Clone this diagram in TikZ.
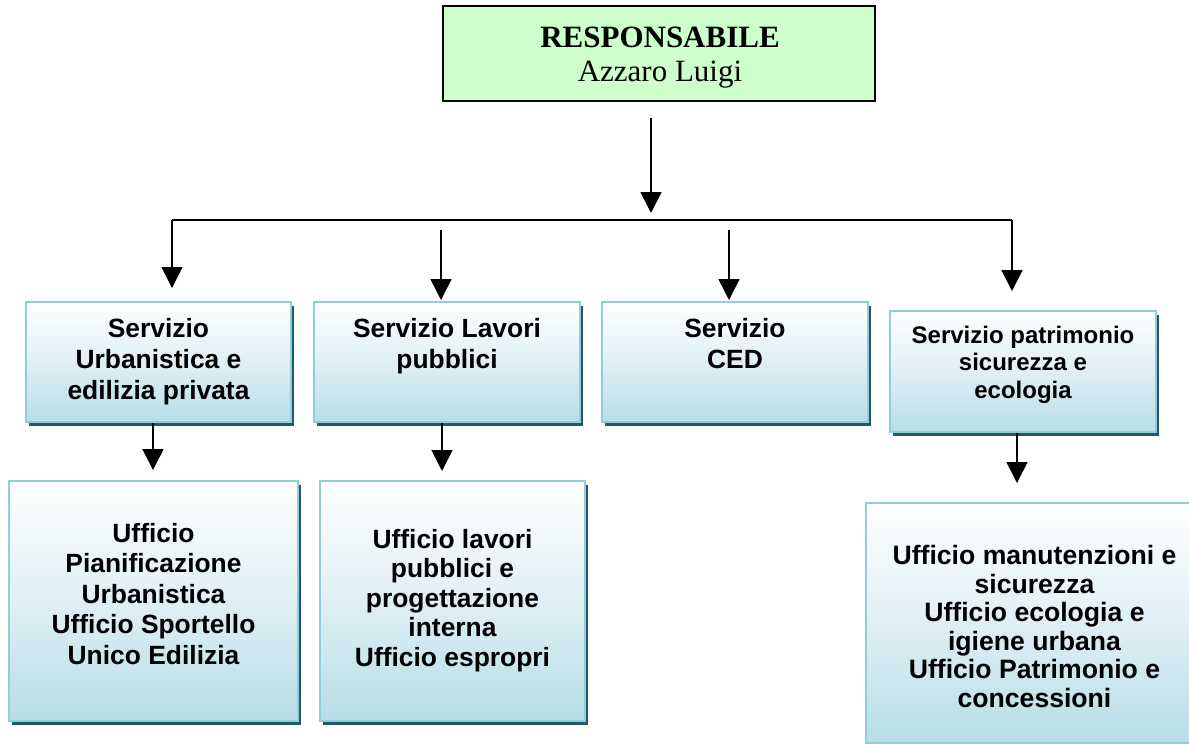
\documentclass[tikz,border=0pt]{standalone}
\usepackage{fontspec}
\setmainfont{Liberation Serif}
\setsansfont{Liberation Sans}
\usetikzlibrary{arrows.meta,shadows}

\definecolor{lightblue}{RGB}{183,221,232}
\definecolor{boxedge}{RGB}{146,205,220}
\definecolor{shadowteal}{RGB}{33,89,104}
\definecolor{mint}{RGB}{204,255,204}

\tikzset{
  unitbox/.style={rectangle, draw=boxedge, line width=2pt,
    top color=white, bottom color=lightblue, middle color=lightblue!45,
    drop shadow={shadow xshift=3pt, shadow yshift=-4pt, fill=shadowteal, opacity=1},
    inner sep=0pt},
  headbox/.style={rectangle, draw=black, line width=2pt, fill=mint, inner sep=0pt},
  lbl/.style={font=\sffamily\bfseries\fontsize{26.4}{31}\selectfont,
    align=center, anchor=north, inner sep=0pt},
  lblsmall/.style={font=\sffamily\bfseries\fontsize{24}{27.5}\selectfont,
    align=center, anchor=north, inner sep=0pt},
  arr/.style={line width=1.6pt, -{Triangle[width=21pt,length=21pt]}},
  bus/.style={line width=1.6pt}
}

\begin{document}
\begin{tikzpicture}[x=1pt,y=-1pt]
\useasboundingbox (0,0) rectangle (1189,744);

% head of the office
\node[headbox, minimum width=432pt, minimum height=95pt] (top) at (659,53.5) {};
\node[anchor=north, inner sep=0pt, align=center, font=\fontsize{31}{34}\selectfont] (topt) at (660,27)
  {\textbf{RESPONSABILE}\\Azzaro Luigi};

% services
\node[unitbox, minimum width=265pt, minimum height=120pt] (s1) at (158.5,362) {};
\node[lbl] (s1t) at (158.5,318) {Servizio\\Urbanistica e\\edilizia privata};

\node[unitbox, minimum width=266pt, minimum height=120pt] (s2) at (447,362) {};
\node[lbl] (s2t) at (447,318) {Servizio Lavori\\pubblici};

\node[unitbox, minimum width=266pt, minimum height=120pt] (s3) at (735,362) {};
\node[lbl] (s3t) at (735,318.5) {Servizio\\CED};

\node[unitbox, minimum width=266pt, minimum height=121pt] (s4) at (1023,371.5) {};
\node[lblsmall] (s4t) at (1023,325.5) {Servizio patrimonio\\sicurezza e\\ecologia};

% offices
\node[unitbox, minimum width=289pt, minimum height=240pt] (u1) at (153.5,601) {};
\node[lbl, font=\sffamily\bfseries\fontsize{26.4}{30.5}\selectfont] (u1t) at (153.5,523)
  {Ufficio\\Pianificazione\\Urbanistica\\Ufficio Sportello\\Unico Edilizia};

\node[unitbox, minimum width=265pt, minimum height=240pt] (u2) at (452.5,601) {};
\node[lbl, font=\sffamily\bfseries\fontsize{26.4}{29.5}\selectfont] (u2t) at (452.5,529)
  {Ufficio lavori\\pubblici e\\progettazione\\interna\\Ufficio espropri};

\node[unitbox, minimum width=337pt, minimum height=240pt] (u3) at (1034.5,623) {};
\node[lbl, font=\sffamily\bfseries\fontsize{26.6}{28.6}\selectfont] (u3t) at (1034.5,545)
  {Ufficio manutenzioni e\\sicurezza\\Ufficio ecologia e\\igiene urbana\\Ufficio Patrimonio e\\concessioni};

% connector ends
\coordinate (t0) at (651,118);
\coordinate (t1) at (651,213);
\coordinate (bl) at (172,220);
\coordinate (br) at (1012,220);
\coordinate (e1) at (172,288);
\coordinate (b2) at (441,230);
\coordinate (e2) at (441,300);
\coordinate (b3) at (729,230);
\coordinate (e3) at (729,300);
\coordinate (e4) at (1012,291);
\coordinate (f1) at (153,470);
\coordinate (f2) at (442,471);
\coordinate (f4) at (1017,483);

% connectors
\draw[arr] (t0) -- (t1);
\draw[bus] (bl) -- (br);
\draw[arr] (bl) -- (e1);
\draw[arr] (b2) -- (e2);
\draw[arr] (b3) -- (e3);
\draw[arr] (br) -- (e4);
\draw[arr] (s1.south -| f1) -- (f1);
\draw[arr] (s2.south -| f2) -- (f2);
\draw[arr] (s4.south -| f4) -- (f4);
\end{tikzpicture}
\end{document}
